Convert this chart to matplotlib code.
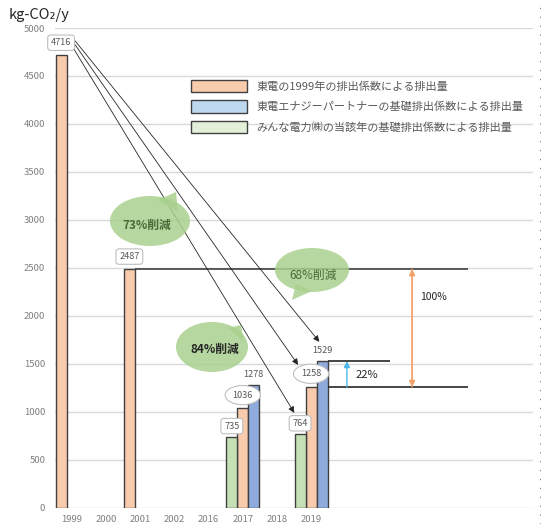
import numpy as np
import matplotlib
matplotlib.use("Agg")
import matplotlib.pyplot as plt
from matplotlib.patches import Ellipse, Polygon, Patch
from matplotlib.lines import Line2D

plt.rcParams['font.family'] = ['Noto Sans CJK JP', 'DejaVu Sans']

# ---------------- data ----------------
categories = ['1999', '2000', '2001', '2002', '2016', '2017', '2018', '2019',
              '', '', '', '', '', '']
nan = np.nan
tepco_1999 = [4716, nan, 2487, nan, nan, 1036, nan, 1258, nan, nan, nan, nan, nan, nan]
tepco_ep = [nan, nan, nan, nan, nan, 1278, nan, 1529, nan, nan, nan, nan, nan, nan]
minna = [nan, nan, nan, nan, nan, 735, nan, 764, nan, nan, nan, nan, nan, nan]
# bar slot offset for the orange series (1999/2001 drawn in left slot)
orange_slot = [-1, 0, -1, 0, 0, 0, 0, 0, 0, 0, 0, 0, 0, 0]

legend_labels = ['東電の1999年の排出係数による排出量',
                 '東電エナジーパートナーの基礎排出係数による排出量',
                 'みんな電力㈱の当該年の基礎排出係数による排出量']
bubble_texts = ['73%削減', '68%削減', '84%削減']
ratio_labels = ['100%', '22%']
yticks = list(range(0, 5001, 500))

c_orange = '#F8CBAD'
c_blue = '#8FAADC'
c_green = '#C5E0B4'
c_blue_leg = '#BDD7EE'
c_green_leg = '#E2F0D9'
edge = '#404040'

W, H = 541, 524
fig = plt.figure(figsize=(W / 100, H / 100), dpi=100)
ax = fig.add_axes([55 / W, (H - 507.7) / H, 478 / W, 479.7 / H])

def fx(px):
    return px / W

def fy(py):
    return 1 - py / H

x = np.arange(len(categories))
bw = 0.322

ax.set_xlim(-0.5, len(categories) - 0.5)
ax.set_ylim(0, 5000)
ax.set_yticks(yticks)
ax.set_xticks(x)
ax.set_xticklabels(categories)
ax.tick_params(axis='both', length=0, colors='#7f7f7f', labelsize=6.8)
ax.tick_params(axis='y', pad=7)
ax.tick_params(axis='x', pad=5)
for s in ax.spines.values():
    s.set_visible(False)
ax.grid(axis='y', color='#d9d9d9', lw=1.0, zorder=0)
ax.set_axisbelow(True)

orange_x = x + np.array(orange_slot) * bw
ax.bar(orange_x, tepco_1999, width=bw, color=c_orange, edgecolor=edge, lw=1.0, zorder=3)
ax.bar(x + bw, tepco_ep, width=bw, color=c_blue, edgecolor=edge, lw=1.0, zorder=3)
ax.bar(x - bw, minna, width=bw, color=c_green, edgecolor=edge, lw=1.0, zorder=3)

label_kw = dict(textcoords='offset points', ha='center', va='center',
                fontsize=6.6, color='#595959', zorder=6)
box_round = dict(boxstyle='round,pad=0.35', fc='white', ec='#bfbfbf', lw=0.8)
box_ell = dict(boxstyle='ellipse,pad=0.25', fc='white', ec='#bfbfbf', lw=0.8)

# data labels
for i, v in enumerate(tepco_1999):
    if np.isnan(v):
        continue
    style = box_round if orange_slot[i] == -1 else box_ell
    off = 9 if orange_slot[i] == -1 else 9.5
    ax.annotate(f'{v:.0f}', xy=(orange_x[i], v), xytext=(0, off), bbox=style, **label_kw)
for i, v in enumerate(tepco_ep):
    if np.isnan(v):
        continue
    ax.annotate(f'{v:.0f}', xy=(x[i] + bw, v), xytext=(0, 7.5), **label_kw)
for i, v in enumerate(minna):
    if np.isnan(v):
        continue
    ax.annotate(f'{v:.0f}', xy=(x[i] - bw, v), xytext=(0, 8), bbox=box_round, **label_kw)

# arrows from the 1999 label
i99 = 0
v99 = tepco_1999[i99]
i19 = 7
starts = [(orange_x[i99] + 0.41, v99 + 150), (orange_x[i99] + 0.41, v99 + 110),
          (orange_x[i99] + 0.35, v99 + 80)]
ends = [(x[i19] + bw - 0.08, tepco_ep[i19] + 200),
        (x[i19] - 0.38, tepco_1999[i19] + 230),
        (x[i19] - bw - 0.17, minna[i19] + 225)]
for s, e in zip(starts, ends):
    ax.annotate('', xy=e, xytext=s,
                arrowprops=dict(arrowstyle='-|>', color='#262626', lw=0.6,
                                mutation_scale=9, shrinkA=0, shrinkB=0), zorder=5)

# reference lines
x_right = 11.6
ax.hlines(tepco_1999[2], orange_x[2] + bw / 2, x_right, color='#404040', lw=1.2, zorder=4)
ax.hlines(tepco_ep[i19], x[i19] + 1.5 * bw, 9.31, color='#262626', lw=1.2, zorder=4)
ax.hlines(tepco_1999[i19], x[i19] + 1.5 * bw, x_right, color='#262626', lw=1.2, zorder=4)

# orange double arrow
ax.annotate('', xy=(9.96, tepco_1999[i19]), xytext=(9.96, tepco_1999[2]),
            arrowprops=dict(arrowstyle='-|>', color='#F4A06A', lw=1.0, mutation_scale=9,
                            shrinkA=0, shrinkB=0), zorder=4)
ax.annotate('', xy=(9.96, tepco_1999[2]), xytext=(9.96, tepco_1999[i19]),
            arrowprops=dict(arrowstyle='-|>', color='#F4A06A', lw=1.0, mutation_scale=9,
                            shrinkA=0, shrinkB=0), zorder=4)
ax.text(10.2, (tepco_1999[2] * 0.65 + tepco_1999[i19] * 0.35) + 140, ratio_labels[0],
        fontsize=7.5, color='#262626', va='center', ha='left')
# blue arrow
ax.annotate('', xy=(8.05, tepco_ep[i19]), xytext=(8.05, tepco_1999[i19]),
            arrowprops=dict(arrowstyle='-|>', color='#4DB8E8', lw=1.0, mutation_scale=9,
                            shrinkA=0, shrinkB=0), zorder=4)
ax.text(8.3, (tepco_ep[i19] + tepco_1999[i19]) / 2 - 10, ratio_labels[1],
        fontsize=8, color='#262626', va='center', ha='left')

# speech bubbles (figure pixel coordinates)
bubbles = [
    dict(c=(150, 221), w=80, h=50, tail=[(158, 200), (176, 192), (178, 212)],
         t=(147, 225), tc='#4a6a3a', bold=True),
    dict(c=(312, 270), w=74, h=44, tail=[(296, 284), (292, 300), (312, 291)],
         t=(313, 275), tc='#4a6a3a', bold=False),
    dict(c=(212, 347), w=72, h=50, tail=[(228, 328), (241, 325), (244, 342)],
         t=(215, 349), tc='#262626', bold=True),
]
bcol = (0.663, 0.820, 0.557, 0.85)
for b, txt in zip(bubbles, bubble_texts):
    e = Ellipse((fx(b['c'][0]), fy(b['c'][1])), b['w'] / W, b['h'] / H,
                transform=fig.transFigure, fc=bcol, ec='none', zorder=7)
    fig.add_artist(e)
    p = Polygon([(fx(a), fy(c)) for a, c in b['tail']], closed=True,
                transform=fig.transFigure, fc=bcol, ec='none', zorder=7)
    fig.add_artist(p)
    fig.text(fx(b['t'][0]), fy(b['t'][1]), txt, ha='center', va='center', fontsize=8.5,
             color=b['tc'], fontweight='bold' if b['bold'] else 'normal', zorder=8)

# legend
handles = [Patch(fc=c_orange, ec=edge, lw=1.0),
           Patch(fc=c_blue_leg, ec=edge, lw=1.0),
           Patch(fc=c_green_leg, ec=edge, lw=1.0)]
leg = fig.legend(handles, legend_labels, loc='upper left',
                 bbox_to_anchor=(fx(191), fy(80)), frameon=False, fontsize=8,
                 handlelength=5.0, handleheight=1.3, handletextpad=0.9,
                 labelspacing=0.75, borderpad=0, borderaxespad=0)
for t in leg.get_texts():
    t.set_color('#595959')

# axis title
fig.text(fx(9), fy(15), 'kg-CO₂/y', fontsize=10.5, color='#262626', ha='left', va='center')

# right edge dotted line
fig.add_artist(Line2D([0.998, 0.998], [0, 1], transform=fig.transFigure,
                      color='#7f7f7f', lw=0.8, ls=(0, (1, 7))))

fig.savefig('out.png', dpi=100, facecolor='white')
